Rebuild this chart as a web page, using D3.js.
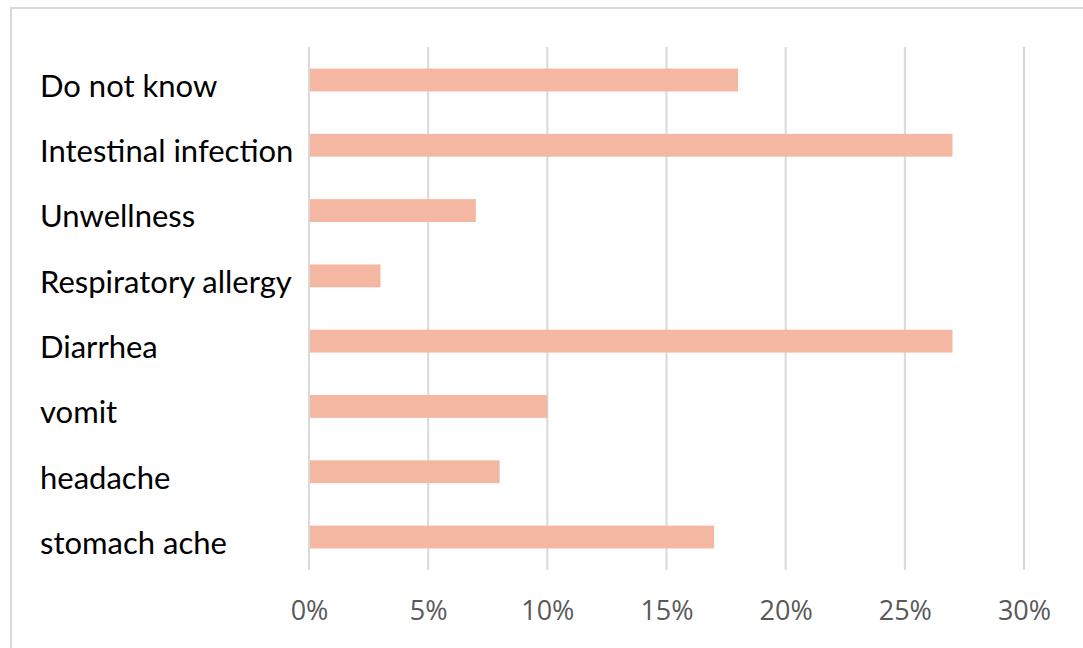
<!DOCTYPE html>
<html>
<head>
<meta charset="utf-8">
<script src="https://cdn.jsdelivr.net/npm/d3@7"></script>
<style>
  body { margin: 0; background: #fff; }
  svg { display: block; }
</style>
</head>
<body>
<div id="chart"></div>
<script>
const categories = ["Do not know", "Intestinal infection", "Unwellness", "Respiratory allergy",
                    "Diarrhea", "vomit", "headache", "stomach ache"];
const values = [18, 27, 7, 3, 27, 10, 8, 17];
const tickValues = [0, 5, 10, 15, 20, 25, 30];

const W = 1083, H = 648;
const margin = {top: 47, right: 59, bottom: 78, left: 309},
      width = W - margin.left - margin.right,
      height = H - margin.top - margin.bottom;

const svg = d3.select("#chart").append("svg")
    .attr("width", W).attr("height", H);

// outer chart border
svg.append("rect")
   .attr("x", 11).attr("y", 8)
   .attr("width", W).attr("height", H)
   .attr("fill", "none").attr("stroke", "#d9d9d9").attr("stroke-width", 2);

const g = svg.append("g").attr("transform", `translate(${margin.left},${margin.top})`);

const x = d3.scaleLinear().domain([0, 30]).range([0, width]);
const y = d3.scaleBand().domain(categories).range([0, height]).paddingInner(0.65).paddingOuter(0.33);

// gridlines
g.selectAll(".grid").data(tickValues).enter().append("line")
  .attr("x1", d => x(d)).attr("x2", d => x(d))
  .attr("y1", 0).attr("y2", height)
  .attr("stroke", "#d9d9d9").attr("stroke-width", 2);

g.selectAll(".bar").data(values).enter().append("rect")
  .attr("x", x(0) + 1)
  .attr("y", (d, i) => y(categories[i]))
  .attr("width", d => x(d) - x(0) - 1)
  .attr("height", y.bandwidth())
  .attr("fill", "#f4b8a2");

// category labels, left aligned, sit a bit below bar centre
svg.selectAll(".cat").data(categories).enter().append("text")
  .attr("x", 40)
  .attr("y", d => margin.top + y(d) + y.bandwidth() / 2 + 6)
  .attr("dy", "0.35em")
  .attr("font-family", "Lato, 'Open Sans', sans-serif")
  .attr("font-size", 31)
  .attr("fill", "#000")
  .text(d => d);

// x axis tick labels
const xAxis = g.append("g")
  .attr("transform", `translate(0,${height})`)
  .call(d3.axisBottom(x).tickValues(tickValues).tickFormat(d => d + "%").tickSize(0).tickPadding(31));
xAxis.select(".domain").remove();
xAxis.selectAll("text")
  .attr("font-family", "'Open Sans', sans-serif")
  .attr("font-size", 27)
  .attr("fill", "#595959");
</script>
</body>
</html>
